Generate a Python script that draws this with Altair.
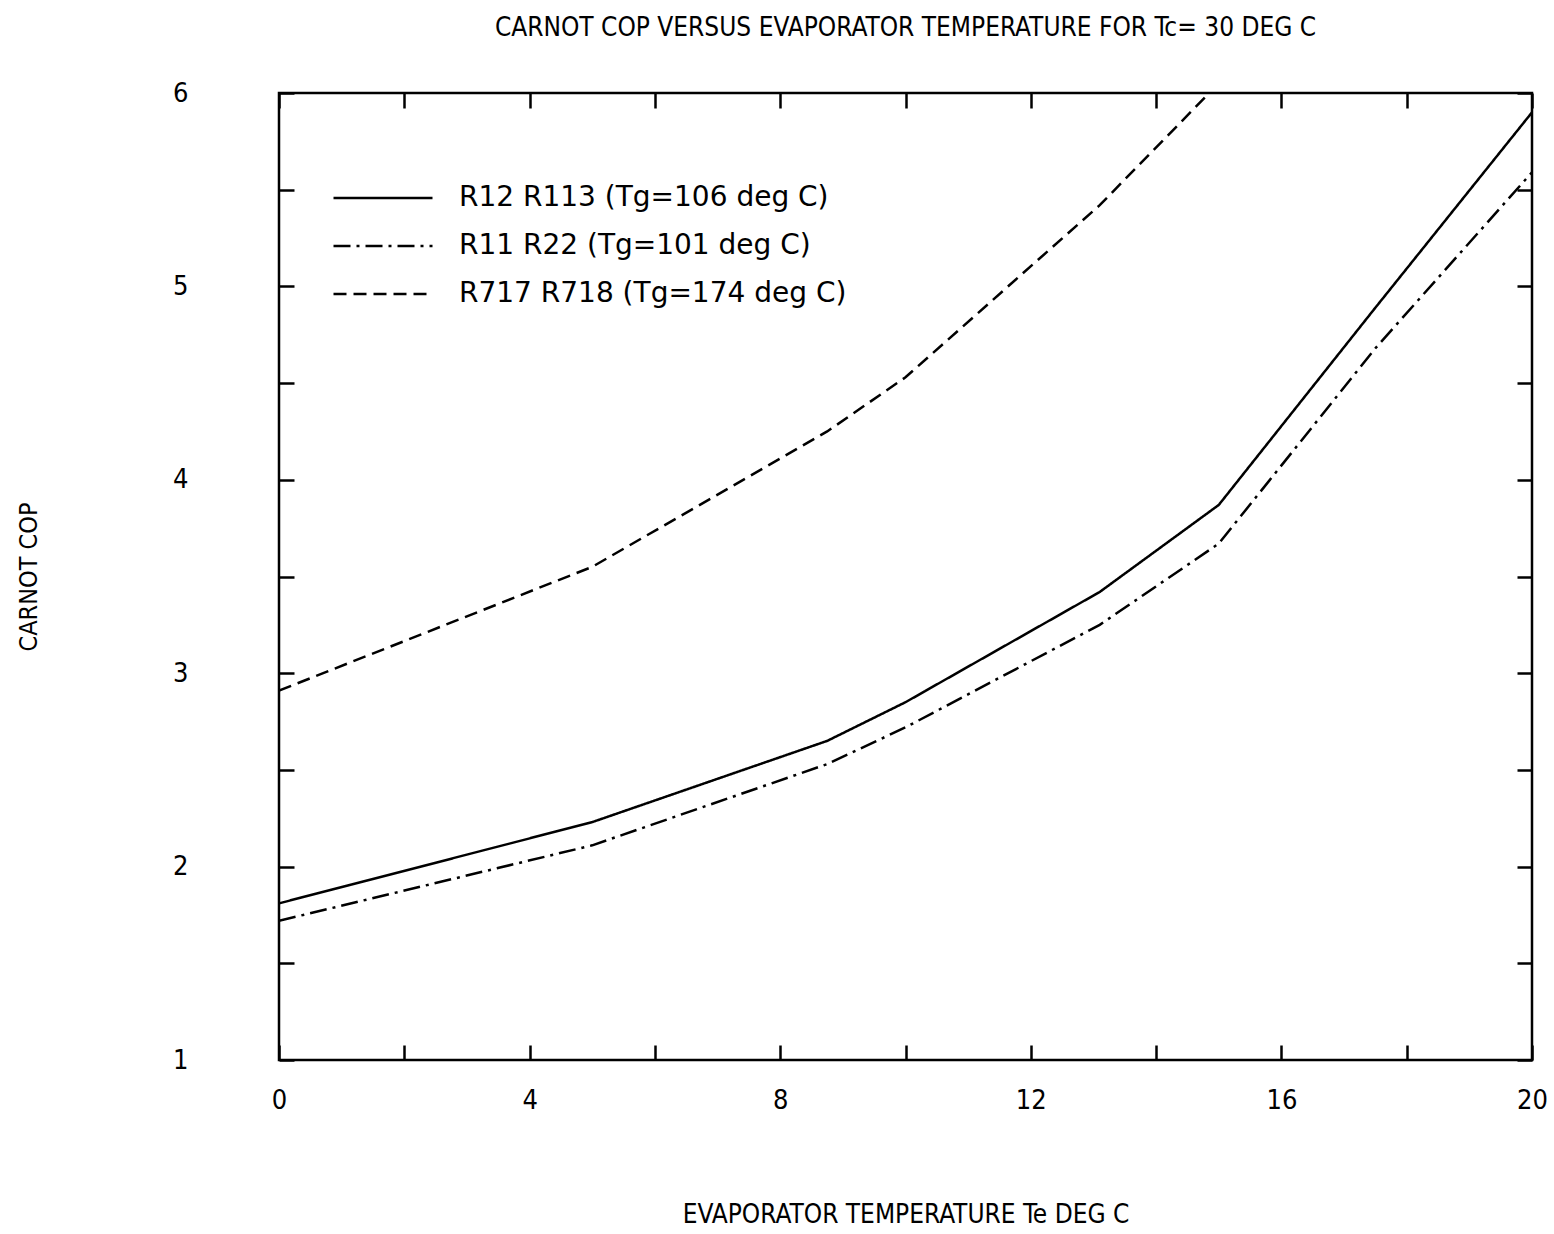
import altair as alt
import pandas as pd

# Evaporator temperature (deg C) and Carnot COP
temps = [0, 5, 8.75, 10, 13.1, 15, 17.5, 20]
cop_r12_r113 = [1.81, 2.23, 2.65, 2.85, 3.42, 3.87, 4.89, 5.90]
cop_r11_r22 = [1.72, 2.11, 2.53, 2.72, 3.25, 3.67, 4.68, 5.59]
temps_r717 = [0, 5, 8.75, 10, 13.1, 15]
cop_r717_r718 = [2.91, 3.55, 4.25, 4.53, 5.42, 6.05]

series_names = [
    "R12 R113 (Tg=106 deg C)",
    "R11 R22 (Tg=101 deg C)",
    "R717 R718 (Tg=174 deg C)",
]

x_tick_values = [0, 2, 4, 6, 8, 10, 12, 14, 16, 18, 20]
y_tick_values = [1, 1.5, 2, 2.5, 3, 3.5, 4, 4.5, 5, 5.5, 6]

rows = []
for t, c in zip(temps, cop_r12_r113):
    rows.append({"series": series_names[0], "T": t, "COP": c})
for t, c in zip(temps, cop_r11_r22):
    rows.append({"series": series_names[1], "T": t, "COP": c})
for t, c in zip(temps_r717, cop_r717_r718):
    rows.append({"series": series_names[2], "T": t, "COP": c})
df = pd.DataFrame(rows)

AXIS_FONT = "Liberation Sans Narrow, DejaVu Sans Condensed, Liberation Sans"
LEGEND_FONT = "DejaVu Sans"

x_scale = alt.Scale(domain=[0, 20], nice=False, zero=False)
y_scale = alt.Scale(domain=[1, 6], nice=False, zero=False)

common_axis = dict(
    tickSize=15, offset=-15, domain=False, grid=False,
    tickColor="black", tickWidth=2.5, labelColor="black", titleColor="black",
    labelFont=AXIS_FONT, titleFont=AXIS_FONT, titleFontWeight="normal",
    labelOverlap=False, labelFlush=False,
)

lines = alt.Chart(df).mark_line(clip=True, color="black", strokeWidth=2.5).encode(
    x=alt.X("T:Q", scale=x_scale, axis=alt.Axis(
        orient="bottom", values=x_tick_values,
        labelExpr="datum.value % 4 === 0 ? format(datum.value, 'd') : ''",
        labelFontSize=27, labelPadding=27,
        title="EVAPORATOR TEMPERATURE Te DEG C", titleFontSize=26, titlePadding=88,
        **common_axis)),
    y=alt.Y("COP:Q", scale=y_scale, axis=alt.Axis(
        orient="left", values=y_tick_values,
        labelExpr="datum.value % 1 === 0 ? format(datum.value, 'd') : ''",
        labelFontSize=27, labelPadding=91, labelAlign="right",
        title="CARNOT COP", titleFontSize=25, titlePadding=131,
        **common_axis)),
    strokeDash=alt.StrokeDash("series:N", scale=alt.Scale(
        domain=series_names, range=[[1, 0], [17, 6, 3, 6], [13, 7]]),
        legend=alt.Legend(
            title=None, orient="none", legendX=86, legendY=87,
            symbolType="M-3,0H3", symbolSize=1089, symbolStrokeWidth=2.5,
            symbolStrokeColor="black", labelFont=LEGEND_FONT, labelFontSize=28,
            labelColor="black", labelOffset=58, labelLimit=800, rowPadding=16)),
    order="T:Q",
)

frame_axes = alt.Chart(df).mark_point(opacity=0).encode(
    x=alt.X("T:Q", scale=x_scale, axis=alt.Axis(
        orient="top", values=x_tick_values, labels=False, title=None, **common_axis)),
    y=alt.Y("COP:Q", scale=y_scale, axis=alt.Axis(
        orient="right", values=y_tick_values, labels=False, title=None, **common_axis)),
)

chart = alt.layer(lines, frame_axes).resolve_axis(
    x="independent", y="independent"
).properties(
    width=1253,
    height=967,
    background="white",
    autosize=alt.AutoSizeParams(type="none"),
    padding={"left": 279, "top": 93, "right": 22, "bottom": 174},
    title=alt.TitleParams(
        "CARNOT COP VERSUS EVAPORATOR TEMPERATURE FOR Tc= 30 DEG C",
        font=AXIS_FONT, fontSize=26, fontWeight="normal", color="black",
        anchor="middle", offset=38),
).configure_view(
    stroke="black", strokeWidth=2.5
)

chart.save("out.html", embed_options={"renderer": "svg", "actions": False})
